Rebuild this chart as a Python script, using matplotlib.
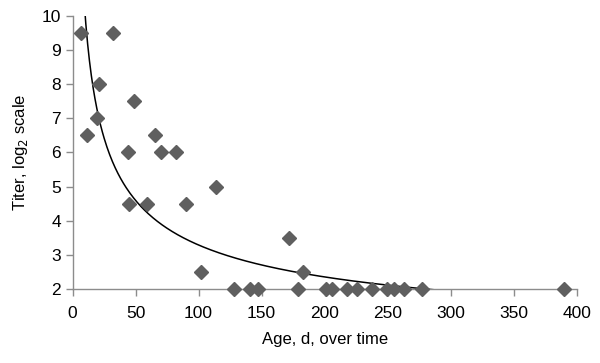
import numpy as np
import matplotlib.pyplot as plt

plt.rcParams['font.family'] = ['Liberation Sans', 'DejaVu Sans']

# age (days) and titer (log2)
age = [6.6, 31.7, 20.9, 48.9, 19.3, 11.6, 65.6, 43.7, 70.1, 81.7,
       114, 44.7, 58.7, 89.9, 102, 172, 183,
       128, 141, 147, 178.6, 201, 205.5, 217.5, 225.4, 238, 249.7,
       255, 263, 277, 390]
titer = [9.5, 9.5, 8, 7.5, 7, 6.5, 6.5, 6, 6, 6,
         5, 4.5, 4.5, 4.5, 2.5, 3.5, 2.5,
         2, 2, 2, 2, 2, 2, 2, 2, 2, 2,
         2, 2, 2, 2]

# power trendline y = a * x^-b
fit_a = 30.4
fit_b = 0.483

grey = '#8c8c8c'

fig = plt.figure(figsize=(6, 3.63), dpi=100)
ax = fig.add_axes([0.121, 0.204, 0.840, 0.752])

xs = np.linspace(9, 300, 400)
ax.plot(xs, fit_a * xs ** -fit_b, color='black', lw=1.1, zorder=2)
ax.plot(age, titer, 'D', color='#5f5f5f', markersize=7.5, mec='#5f5f5f', zorder=3, clip_on=False)

ax.set_xlim(0, 400)
ax.set_ylim(2, 10)
ax.set_xticks(range(0, 401, 50))
ax.set_yticks(range(2, 11))
for s in ['top', 'right']:
    ax.spines[s].set_visible(False)
for s in ['left', 'bottom']:
    ax.spines[s].set_color(grey)
    ax.spines[s].set_linewidth(1.0)
ax.tick_params(axis='both', colors=grey, labelcolor='black', labelsize=12.5, length=5, width=1.0)
ax.tick_params(axis='x', pad=7)

ax.set_xlabel('Age, d, over time', fontsize=12, labelpad=8)
ax.set_ylabel('Titer, log$_2$ scale', fontsize=12, labelpad=8)

fig.savefig('out.png', dpi=100)
